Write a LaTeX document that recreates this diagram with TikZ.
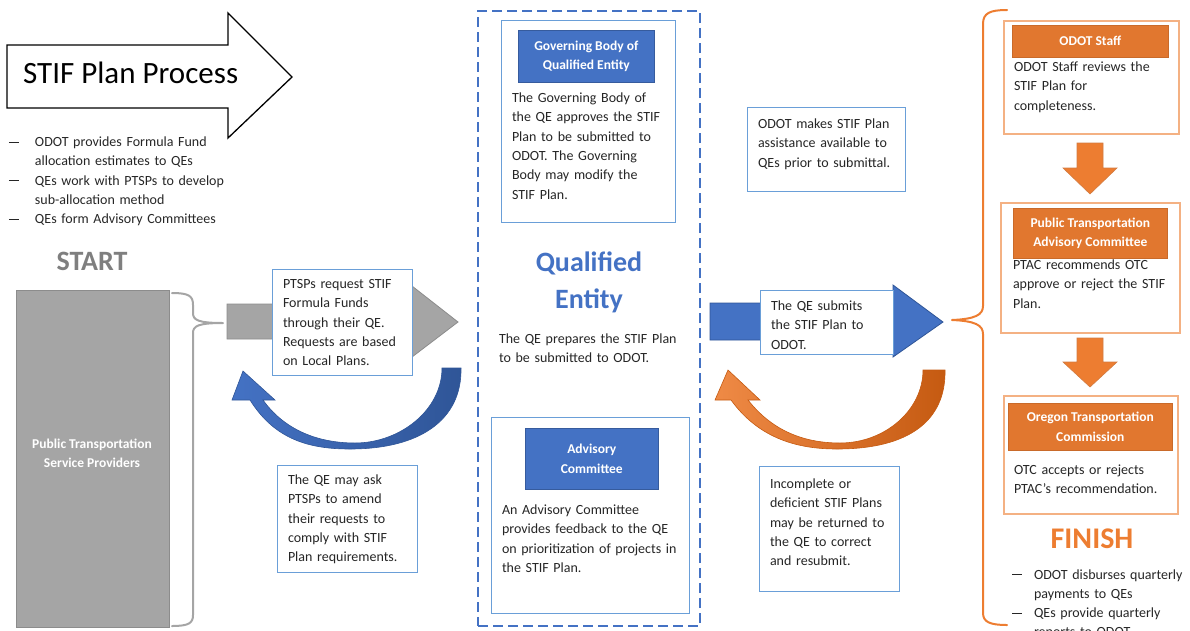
\documentclass[tikz,border=0pt]{standalone}
\usepackage{fontspec}
\setmainfont{Carlito}
\usetikzlibrary{shapes.geometric}
\definecolor{qblue}{HTML}{4472C4}
\definecolor{dblue}{HTML}{2F5597}
\definecolor{lblue}{HTML}{6A9FD8}
\definecolor{qorange}{HTML}{ED7D31}
\definecolor{dorange}{HTML}{C55A11}
\definecolor{lorange}{HTML}{F4B183}
\definecolor{qgray}{HTML}{A5A5A5}
\definecolor{dgray}{HTML}{8C8C8C}
\definecolor{startgray}{HTML}{7F7F7F}
\definecolor{ink}{HTML}{262626}
\newcommand{\bodyf}{\fontsize{14}{19.3}\selectfont}
\newcommand{\hdrf}{\fontsize{13.5}{19.3}\selectfont\bfseries}
\newcommand{\mydash}[1]{\makebox[#1][l]{\raisebox{4pt}{\rule{10pt}{0.9pt}}}}
\begin{document}
\begin{tikzpicture}[x=1pt,y=-1pt,
  txt/.style={anchor=base west, inner sep=0pt, outer sep=0pt, text width=230pt, align=left, font=\bodyf, text=ink},
  bbox/.style={draw=lblue, line width=1.3pt, fill=white, anchor=north west, inner sep=0pt},
  obox/.style={draw=lorange, line width=1.5pt, fill=white, anchor=north west, inner sep=0pt},
  bhdr/.style={fill=qblue, draw=qblue!80!black, line width=0.6pt, anchor=north west, inner sep=0pt, align=center, text=white, font=\hdrf},
  ohdr/.style={fill=qorange!95!black, draw=qorange!85!black, line width=0.6pt, anchor=north west, inner sep=0pt, align=center, text=white, font=\hdrf},
  bigarrowB/.style={fill=qblue, draw=dblue, line width=0.8pt},
  bigarrowG/.style={fill=qgray, draw=dgray, line width=0.8pt},
  downarrow/.style={fill=qorange, draw=dorange!80, line width=0.6pt},
  brace/.style={line width=2pt, line join=round, line cap=round}
]
\useasboundingbox (0,0) rectangle (1190,630);
\clip (0,0) rectangle (1190,630);

% ---------- Title arrow ----------
\draw[line width=1.3pt, fill=white, line join=miter] (7,45) -- (228,45) -- (228,13) -- (292,77) -- (228,138) -- (228,108) -- (7,108) -- cycle;
\node[anchor=base west, inner sep=0pt, font=\fontsize{31}{36}\selectfont, text=black] (title) at (23,83) {STIF Plan Process};

\node[txt] (startlist) at (9,146.5) {\mydash{26pt}ODOT provides Formula Fund\\
\hspace*{26pt}allocation estimates to QEs\\
\mydash{26pt}QEs work with PTSPs to develop\\
\hspace*{26pt}sub-allocation method\\
\mydash{26pt}QEs form Advisory Committees};

% ---------- START ----------
\node[inner sep=0pt, font=\fontsize{28}{32}\selectfont\bfseries, text=startgray] (start) at (92,261) {START};
\node[fill=qgray, draw=dgray, line width=0.8pt, anchor=north west, minimum width=153pt, minimum height=337pt, inner sep=0pt] (ptsp) at (16,290) {};
\node[inner sep=0pt, align=center, text=white, font=\fontsize{13.5}{19.3}\selectfont\bfseries] (ptsplbl) at (92,453) {Public Transportation\\Service Providers};
\coordinate (gtip) at (223,323);
\draw[brace, draw=qgray] (172,293) .. controls (189,293) and (193,296) .. (193,305) -- (193,313) .. controls (193,320) and (198,323) .. (gtip) .. controls (198,323) and (193,326) .. (193,333) -- (193,615) .. controls (193,623) and (189,626) .. (172,626);

% gray arrow
\draw[bigarrowG] (227,304) -- (412,304) -- (412,286) -- (458,322) -- (412,357) -- (412,339) -- (227,339) -- cycle;
\node[bbox, minimum width=140pt, minimum height=106pt] (reqbox) at (272,269) {};
\node[txt] (reqtxt) at (283,288.5) {PTSPs request STIF\\Formula Funds\\through their QE.\\Requests are based\\on Local Plans.};

% blue curved arrow
\path[left color=qblue, right color=dblue, draw=dblue, line width=0.6pt, line join=miter]
  (263,400) -- (275,400) -- (243,371) -- (232,400) -- (250,400)
  .. controls (275,440) and (310,449) .. (350,449)
  .. controls (420,449) and (462,420) .. (461,368)
  -- (442,368)
  .. controls (442,410) and (400,443) .. (355,443)
  .. controls (315,443) and (283,428) .. (263,400) -- cycle;

\node[bbox, minimum width=140pt, minimum height=107pt] (amendbox) at (277,465) {};
\node[txt] (amendtxt) at (288,484.5) {The QE may ask\\PTSPs to amend\\their requests to\\comply with STIF\\Plan requirements.};

% ---------- Qualified Entity ----------
\node[draw=qblue, dash pattern=on 10pt off 5pt, line width=2pt, anchor=north west, minimum width=222pt, minimum height=615pt, inner sep=0pt] (qe) at (477,10) {};
\node[bbox, minimum width=174pt, minimum height=202pt] (govbox) at (501,20) {};
\node[bhdr, minimum width=136pt, minimum height=52pt] (govhdr) at (518,30) {Governing Body of\\Qualified Entity};
\node[txt] (govtxt) at (512,102.5) {The Governing Body of\\the QE approves the STIF\\Plan to be submitted to\\ODOT. The Governing\\Body may modify the\\STIF Plan.};

\node[inner sep=0pt, align=center, text=qblue, font=\fontsize{28}{37}\selectfont\bfseries] (qelbl) at (589,282) {Qualified\\Entity};
\node[txt] (qetxt) at (499,343.5) {The QE prepares the STIF Plan\\to be submitted to ODOT.};

\node[bbox, minimum width=198pt, minimum height=196pt] (advbox) at (491,417) {};
\node[bhdr, minimum width=133pt, minimum height=61pt] (advhdr) at (525,428) {Advisory\\Committee};
\node[txt] (advtxt) at (502,514.5) {An Advisory Committee\\provides feedback to the QE\\on prioritization of projects in\\the STIF Plan.};

% ---------- ODOT side ----------
\node[bbox, minimum width=158pt, minimum height=84pt] (assistbox) at (747,107) {};
\node[txt] (assisttxt) at (758,128.5) {ODOT makes STIF Plan\\assistance available to\\QEs prior to submittal.};

\draw[bigarrowB] (710,303) -- (893,303) -- (893,285) -- (943,322) -- (893,357) -- (893,340) -- (710,340) -- cycle;
\node[bbox, minimum width=133pt, minimum height=64pt] (submitbox) at (760,290) {};
\node[txt] (submittxt) at (771,310.5) {The QE submits\\the STIF Plan to\\ODOT.};

% orange curved arrow
\path[left color=qorange!90!white, right color=dorange, draw=dorange, line width=0.6pt, line join=miter]
  (748,400) -- (760,400) -- (728,370) -- (715,400) -- (731,400)
  .. controls (760,440) and (800,449) .. (837,449)
  .. controls (910,449) and (946,420) .. (945,370)
  -- (923,370)
  .. controls (923,410) and (885,443) .. (840,443)
  .. controls (800,443) and (770,428) .. (748,400) -- cycle;

\node[bbox, minimum width=140pt, minimum height=125pt] (incbox) at (759,466) {};
\node[txt] (inctxt) at (770,488.5) {Incomplete or\\deficient STIF Plans\\may be returned to\\the QE to correct\\and resubmit.};

% orange brace
\coordinate (otip) at (952,320);
\draw[brace, draw=qorange] (1007,10) .. controls (990,10) and (983,13) .. (983,24) -- (983,306) .. controls (983,315) and (975,319) .. (otip) .. controls (975,321) and (983,325) .. (983,334) -- (983,613) .. controls (983,622) and (990,625) .. (1007,625);

% ODOT Staff
\node[obox, minimum width=175pt, minimum height=113pt] (staffbox) at (1003,20) {};
\node[ohdr, minimum width=156pt, minimum height=32pt] (staffhdr) at (1012,25) {ODOT Staff};
\node[txt] (stafftxt) at (1014,71.5) {ODOT Staff reviews the\\STIF Plan for\\completeness.};

\draw[downarrow] (1077,143) -- (1103,143) -- (1103,168) -- (1117,168) -- (1090,194) -- (1063,168) -- (1077,168) -- cycle;

% PTAC
\node[obox, minimum width=179pt, minimum height=130pt] (ptacbox) at (1000,202) {};
\node[ohdr, minimum width=154pt, minimum height=50pt] (ptachdr) at (1013,208) {Public Transportation\\Advisory Committee};
\node[txt] (ptactxt) at (1013,269.5) {PTAC recommends OTC\\approve or reject the STIF\\Plan.};

\draw[downarrow] (1077,338) -- (1103,338) -- (1103,362) -- (1117,362) -- (1090,387) -- (1063,362) -- (1077,362) -- cycle;

% OTC
\node[obox, minimum width=174pt, minimum height=118pt] (otcbox) at (1003,395) {};
\node[ohdr, minimum width=164pt, minimum height=47pt] (otchdr) at (1008,403) {Oregon Transportation\\Commission};
\node[txt] (otctxt) at (1014,474.5) {OTC accepts or rejects\\PTAC’s recommendation.};

\node[inner sep=0pt, font=\fontsize{30}{34}\selectfont\bfseries, text=qorange] (finish) at (1092,539) {FINISH};
\node[txt] (finlist) at (1012,579) {\mydash{22pt}ODOT disburses quarterly\\
\hspace*{22pt}payments to QEs\\
\mydash{22pt}QEs provide quarterly\\
\hspace*{22pt}reports to ODOT};
\end{tikzpicture}
\end{document}
